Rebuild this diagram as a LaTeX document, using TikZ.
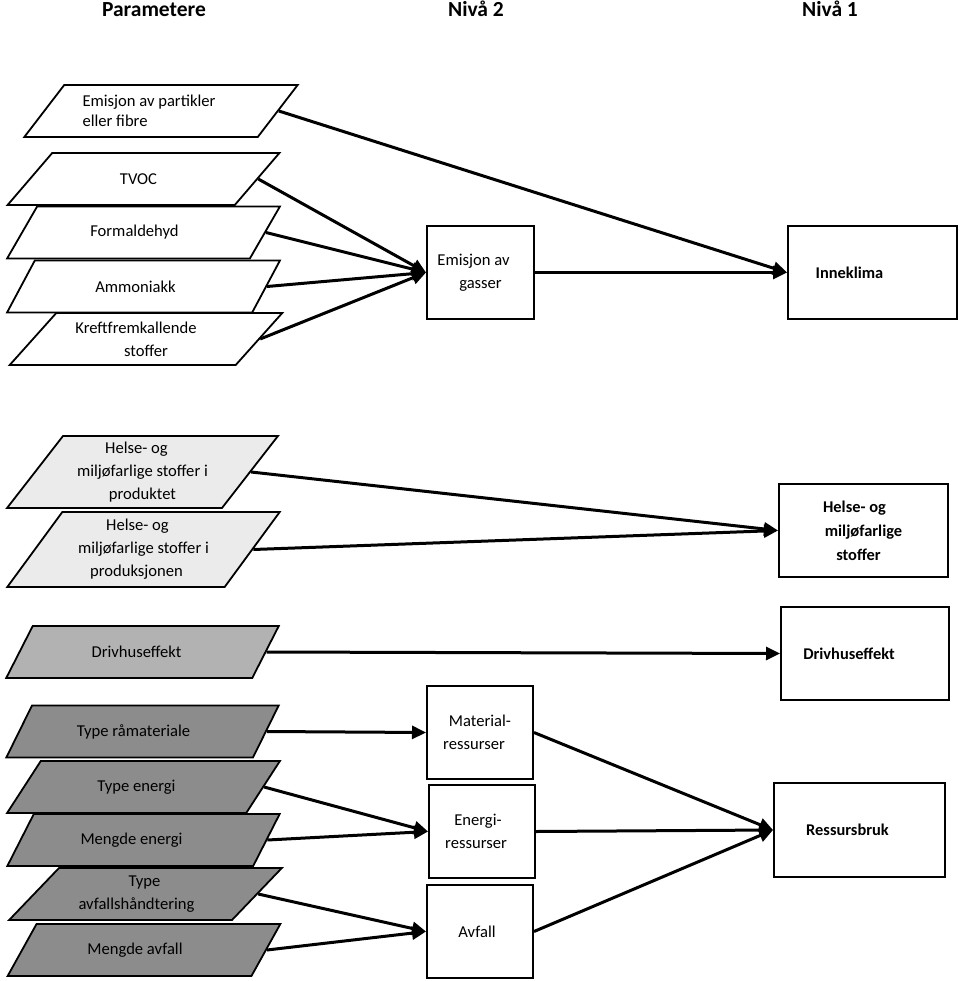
\documentclass[tikz,border=0pt]{standalone}
\usepackage{fontspec}
\setmainfont{Carlito}
\usetikzlibrary{shapes.geometric,arrows.meta}
\definecolor{gA}{gray}{0.92}
\definecolor{gB}{gray}{0.70}
\definecolor{gC}{gray}{0.55}
\newcommand\rsp[1]{\hspace*{#1pt}}
\begin{document}
\begin{tikzpicture}[x=1pt,y=-1pt,
  pg/.style={trapezium, draw, line width=1.8pt, trapezium stretches=true, inner sep=0pt,
    align=center, font=\fontsize{16.6}{23}\selectfont, minimum width=273pt, minimum height=52pt,
    trapezium left angle=43.4, trapezium right angle=136.6},
  box/.style={draw, line width=2pt, rectangle, inner sep=0pt, align=center,
    font=\fontsize{16.6}{23}\selectfont, minimum height=93pt},
  bbox/.style={box, font=\bfseries\fontsize{16.4}{24}\selectfont},
  hdr/.style={font=\bfseries\fontsize{21.5}{26}\selectfont, anchor=base},
  arr/.style={line width=3pt, -{Triangle[length=14pt,width=13pt]}},
]
\useasboundingbox (0,0) rectangle (960,981);

% headers
\node[hdr] (h1) at (154,17) {Parametere};
\node[hdr] (h2) at (476,17) {Nivå 2};
\node[hdr] (h3) at (830,17) {Nivå 1};

% parameter shapes
\node[pg, fill=white, minimum width=274pt, trapezium left angle=43.9, trapezium right angle=136.1,
  font=\fontsize{16.6}{19.5}\selectfont, align=left] (p1) at (161,111) {Emisjon av partikler\rsp{24}\\eller fibre};
\node[pg, fill=white] (tvoc) at (143.5,179) {TVOC\rsp{10}};
\node[pg, fill=white] (form) at (143.5,232.5) {Formaldehyd\rsp{18}};
\node[pg, fill=white] (amm) at (143.5,286.5) {Ammoniakk\rsp{16}};
\node[pg, fill=white] (kreft) at (146,339) {Kreftfremkallende\rsp{20}\\stoffer};

\node[pg, fill=gA, minimum width=271pt, minimum height=72pt, trapezium left angle=52.6, trapezium right angle=127.4]
  (helse1) at (142.5,472) {Helse- og\rsp{12}\\miljøfarlige stoffer i\rsp{18}\\produktet};
\node[pg, fill=gA, minimum width=273pt, minimum height=75pt, trapezium left angle=53.7, trapezium right angle=126.3]
  (helse2) at (143.5,549.5) {Helse- og\rsp{12}\\miljøfarlige stoffer i\rsp{18}\\produksjonen\rsp{14}};

\node[pg, fill=gB] (driv) at (142.5,652) {Drivhuseffekt\rsp{12}};

\node[pg, fill=gC] (ramat) at (142.5,731.5) {Type råmateriale\rsp{18}};
\node[pg, fill=gC] (tener) at (143.5,787) {Type energi\rsp{14}};
\node[pg, fill=gC] (mener) at (143.5,840) {Mengde energi\rsp{24}};
\node[pg, fill=gC] (tavf) at (145.5,894) {Type\rsp{2}\\avfallshåndtering\rsp{18}};
\node[pg, fill=gC] (mavf) at (144,950) {Mengde avfall\rsp{18}};

% level 2 boxes
\node[box, minimum width=107pt] (gass) at (480.5,272.5) {Emisjon av\rsp{14}\\gasser};
\node[box, minimum width=106pt] (mat) at (480,732.5) {Material-\\ressurser\rsp{12}};
\node[box, minimum width=106pt] (ener) at (482,831.5) {Energi-\rsp{8}\\ressurser\rsp{12}};
\node[box, minimum width=106pt] (avf) at (480,931.5) {Avfall\rsp{6}};

% level 1 boxes
\node[bbox, minimum width=169pt] (inne) at (872.5,272.5) {Inneklima\rsp{46}};
\node[bbox, minimum width=169pt] (helseb) at (863.5,530.5) {Helse- og\rsp{18}\\miljøfarlige\rsp{22}\\stoffer\rsp{10}};
\node[bbox, minimum width=168pt] (drivb) at (865,653.5) {Drivhuseffekt\rsp{32}};
\node[bbox, minimum width=171pt, minimum height=94pt] (ress) at (859.5,830) {Ressursbruk\rsp{24}};

% connectors
\draw[arr] (p1.right side) -- (inne.west);
\draw[arr] (tvoc.right side) -- (gass.west);
\draw[arr] (form.right side) -- (gass.west);
\draw[arr] (amm.right side) -- (gass.west);
\draw[arr] (kreft.right side) -- (gass.west);
\draw[arr] (gass.east) -- (inne.west);

\draw[arr] (helse1.right side) -- (helseb.west);
\draw[arr] (helse2.right side) -- (helseb.west);
\draw[arr] (driv.right side) -- (drivb.west);

\draw[arr] (ramat.right side) -- (mat.west);
\draw[arr] (tener.right side) -- (ener.west);
\draw[arr] (mener.right side) -- (ener.west);
\draw[arr] (tavf.right side) -- (avf.west);
\draw[arr] (mavf.right side) -- (avf.west);

\draw[arr] (mat.east) -- (ress.west);
\draw[arr] (ener.east) -- (ress.west);
\draw[arr] (avf.east) -- (ress.west);
\end{tikzpicture}
\end{document}
